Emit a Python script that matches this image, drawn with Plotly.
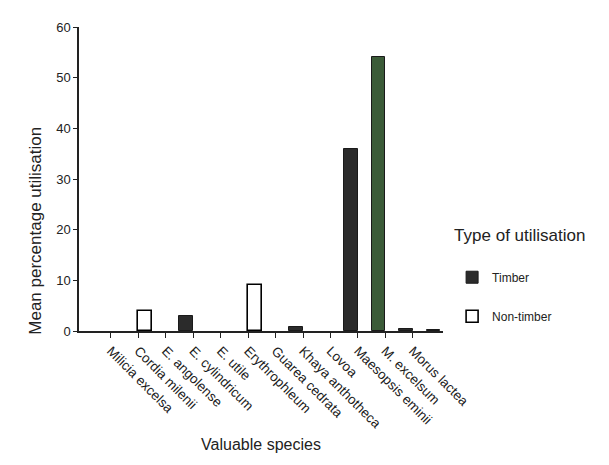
import plotly.graph_objects as go

species = ["Milicia excelsa", "Cordia milenii", "E. angolense", "E. cylindricum",
           "E. utile", "Erythrophleum", "Guarea cedrata", "Khaya anthotheca",
           "Lovoa", "Maesopsis eminii", "M. excelsum", "Morus lactea"]
timber = [0, 0, 3, 0, 0, 0, 0.8, 0, 36, 54, 0.3, 0.2]
non_timber = [0, 4, 0, 0, 0, 9, 0, 0, 0, 0, 0, 0]
timber_colors = ["#2b2b2b"] * 9 + ["#3b5b38"] + ["#2b2b2b"] * 2

idx = list(range(len(species)))
tick_pos = [i - 0.5 for i in idx]
# zero values are not drawn as bars (they sit on the axis line)
nt_plot = [v if v > 0 else None for v in non_timber]
t_plot = [v if v > 0 else None for v in timber]

fig = go.Figure()
fig.add_trace(go.Bar(
    x=idx, y=nt_plot, name="Non-timber", legendgroup="n",
    marker=dict(color="white", line=dict(color="black", width=1.6)),
    legendrank=2,
))
fig.add_trace(go.Bar(
    x=idx, y=t_plot, name="Timber", legendgroup="t",
    marker=dict(color=timber_colors, line=dict(color="#1a1a1a", width=1)),
    legendrank=1,
))

font = "Liberation Sans, Arial, sans-serif"
fig.update_layout(
    width=609, height=465,
    margin=dict(l=71, r=174, t=15, b=142),
    paper_bgcolor="white", plot_bgcolor="white",
    barmode="group", bargap=0.0, bargroupgap=0.0,
    font=dict(family=font, color="#222"),
    showlegend=True,
    legend=dict(
        title=dict(text="Type of utilisation<br> ", font=dict(size=17, color="#222")),
        x=1.025, xanchor="left", y=0.37, yanchor="top",
        font=dict(size=12, color="#222"),
        itemwidth=30, tracegroupgap=20,
        bgcolor="rgba(0,0,0,0)",
    ),
    xaxis=dict(
        range=[-1.66, 11.6],
        tickmode="array", tickvals=tick_pos, ticktext=species,
        tickangle=45, ticks="outside", ticklen=5, tickcolor="#222",
        tickfont=dict(size=13.5, color="#1a1a1a"),
        showline=True, linecolor="#222", linewidth=1.5,
        showgrid=False, zeroline=False,
        title=dict(text="Valuable species", font=dict(size=16, color="#222"), standoff=8),
    ),
    yaxis=dict(
        range=[0, 60], tickvals=[0, 10, 20, 30, 40, 50, 60],
        ticks="outside", ticklen=4, tickcolor="#222",
        tickfont=dict(size=13, color="#222"),
        showline=True, linecolor="#222", linewidth=1.5,
        showgrid=False, zeroline=False,
    ),
    annotations=[dict(
        text="Mean percentage utilisation", textangle=-90,
        xref="paper", yref="paper", x=-0.118, y=0.33,
        xanchor="center", yanchor="middle", showarrow=False,
        font=dict(size=17, color="#222"),
    )],
)

fig.write_html("out.html")
